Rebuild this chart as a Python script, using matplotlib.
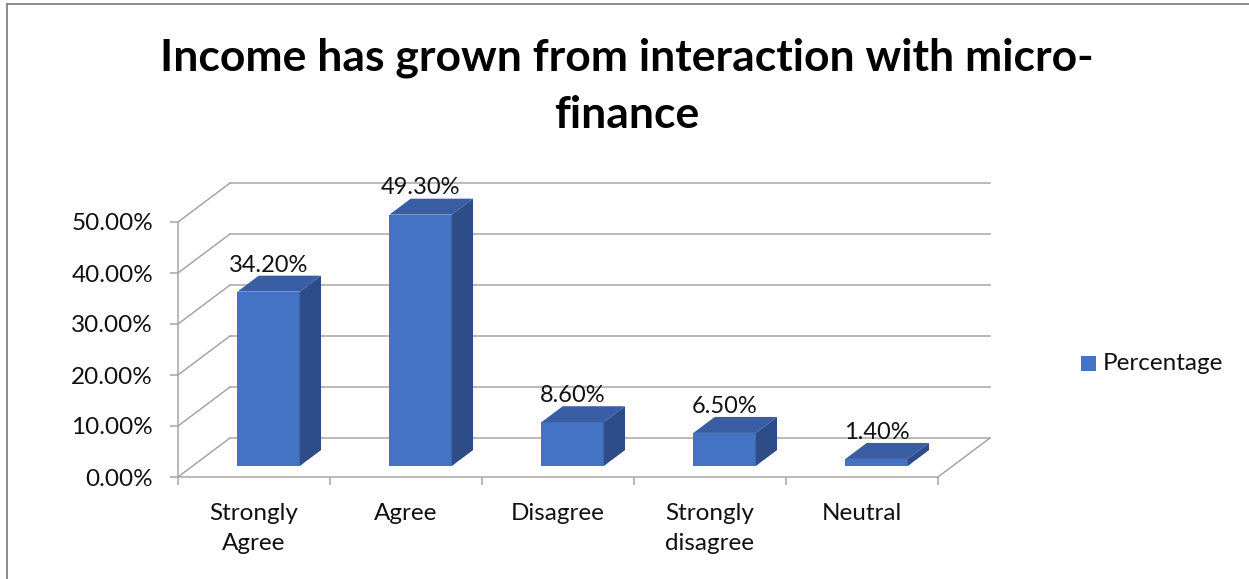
import matplotlib
matplotlib.use("Agg")
import matplotlib.pyplot as plt
from matplotlib.patches import Polygon, Rectangle
from matplotlib.lines import Line2D
from matplotlib.ticker import FuncFormatter, FixedLocator

categories = ["Strongly\nAgree", "Agree", "Disagree", "Strongly\ndisagree", "Neutral"]
values = [34.2, 49.3, 8.6, 6.5, 1.4]
data_labels = ["34.20%", "49.30%", "8.60%", "6.50%", "1.40%"]
yticks = [0, 10, 20, 30, 40, 50]
series_name = "Percentage"
title = "Income has grown from interaction with micro-\nfinance"

FONT = ["Lato", "DejaVu Sans"]
plt.rcParams["font.family"] = FONT

W, H = 1249, 579
fig = plt.figure(figsize=(W / 100, H / 100), dpi=100)
fig.patch.set_facecolor("white")

# chart border (left/top visible)
fig.add_artist(Line2D([7 / W, 7 / W], [0, 1 - 4 / H], transform=fig.transFigure,
                      color="#8c8c8c", lw=1.4))
fig.add_artist(Line2D([7 / W, 1], [1 - 4 / H, 1 - 4 / H], transform=fig.transFigure,
                      color="#8c8c8c", lw=1.4))

ax = fig.add_axes([178 / W, (H - 477) / H, 760 / W, 255 / H])
n = len(categories)
ax.set_xlim(-0.5, n - 0.5)
ax.set_ylim(0, 50)
ax.set_facecolor("none")

# depth of the 3D box in data units
DX = 52 / 152.0
DY = 39 / 5.1
F0, F1 = 0.28, 0.69   # bar front/back depth fractions
BW = 0.41            # bar width

grid_c = "#a6a6a6"
lw = 1.1
txt_c = "#111111"
FS = 17.5

# back wall gridlines + left wall diagonals
for v in yticks:
    ax.add_line(Line2D([-0.5 + DX, n - 0.5 + DX], [v + DY, v + DY], color=grid_c, lw=lw,
                       clip_on=False, zorder=1))
    ax.add_line(Line2D([-0.5, -0.5 + DX], [v, v + DY], color=grid_c, lw=lw,
                       clip_on=False, zorder=1))
# floor right edge
ax.add_line(Line2D([n - 0.5, n - 0.5 + DX], [0, DY], color=grid_c, lw=lw,
                   clip_on=False, zorder=1))

front_c = "#4472c4"
top_c = "#3a5ea4"
side_c = "#2e4d88"
for i, v in enumerate(values):
    x0 = i - BW / 2 + F0 * DX
    x1 = i + BW / 2 + F0 * DX
    y0 = F0 * DY
    y1 = v + F0 * DY
    ddx = (F1 - F0) * DX
    ddy = (F1 - F0) * DY
    ax.add_patch(Polygon([(x0, y0), (x1, y0), (x1, y1), (x0, y1)], closed=True,
                         facecolor=front_c, edgecolor="none", clip_on=False, zorder=3))
    ax.add_patch(Polygon([(x0, y1), (x1, y1), (x1 + ddx, y1 + ddy), (x0 + ddx, y1 + ddy)],
                         closed=True, facecolor=top_c, edgecolor="none", clip_on=False, zorder=3))
    ax.add_patch(Polygon([(x1, y0), (x1 + ddx, y0 + ddy), (x1 + ddx, y1 + ddy), (x1, y1)],
                         closed=True, facecolor=side_c, edgecolor="none", clip_on=False, zorder=3))
    ax.annotate(data_labels[i], xy=(i + F0 * DX, v + F1 * DY), xytext=(0, 3),
                textcoords="offset points", ha="center", va="baseline",
                fontsize=17, color=txt_c, zorder=5, annotation_clip=False)

# axes
for s in ["top", "right"]:
    ax.spines[s].set_visible(False)
for s in ["left", "bottom"]:
    ax.spines[s].set_color(grid_c)
    ax.spines[s].set_linewidth(lw)
    ax.spines[s].set_zorder(2)
ax.set_yticks(yticks)
ax.yaxis.set_major_formatter(FuncFormatter(lambda y, p: f"{y:.2f}%"))
ax.tick_params(axis="y", length=6, width=lw, color=grid_c, pad=12, labelsize=FS,
               labelcolor=txt_c)
ax.xaxis.set_major_locator(FixedLocator([k - 0.5 for k in range(n + 1)]))
ax.xaxis.set_minor_locator(FixedLocator(list(range(n))))
ax.xaxis.set_major_formatter(FuncFormatter(lambda x, p: ""))
ax.set_xticks(list(range(n)), categories, minor=True)
ax.tick_params(axis="x", which="major", length=6, width=lw, color=grid_c)
ax.tick_params(axis="x", which="minor", length=0, pad=19, labelsize=FS,
               labelcolor=txt_c)
for t in ax.get_xticklabels(minor=True):
    t.set_linespacing(1.5)

# legend
fig.add_artist(Rectangle((1081 / W, 1 - 371 / H), 15 / W, 15 / H, transform=fig.transFigure,
                         facecolor=front_c, edgecolor="none"))
fig.text(1103 / W, 1 - 363 / H, series_name, ha="left", va="center", fontsize=FS,
         color=txt_c)

fig.text(0.502, 1 - 86 / H, title, ha="center", va="center", fontsize=32,
         fontweight="bold", color="black", linespacing=1.5)

fig.savefig("out.png", dpi=100, facecolor="white")
